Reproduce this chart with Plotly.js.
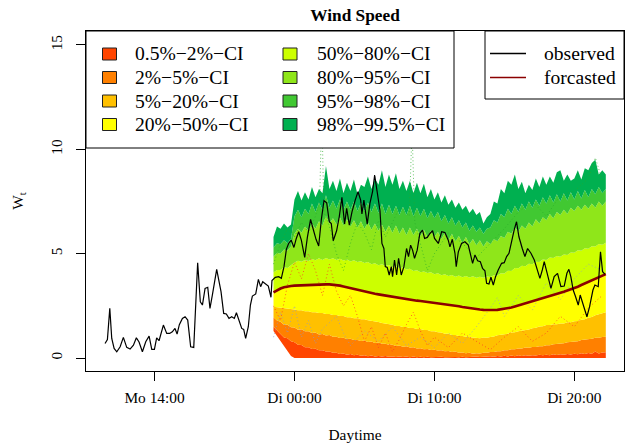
<!DOCTYPE html>
<html>
<head>
<meta charset="utf-8">
<script src="https://cdn.plot.ly/plotly-3.0.1.min.js"></script>
<style>html,body{margin:0;padding:0;background:#fff}#chart{width:627px;height:445px}</style>
</head>
<body>
<div id="chart"></div>
<script>
// ---------- DATA (hours since Monday 00:00) ----------
const tickVals = [14, 24, 34, 44];
const tickText = ["Mo 14:00", "Di 00:00", "Di 10:00", "Di 20:00"];

const bandLabels = ["0.5%\u22122%\u2212CI", "2%\u22125%\u2212CI", "5%\u221220%\u2212CI", "20%\u221250%\u2212CI",
                    "50%\u221280%\u2212CI", "80%\u221295%\u2212CI", "95%\u221298%\u2212CI", "98%\u221299.5%\u2212CI"];
const bandColors = ["#FF4500", "#FF8000", "#FFC000", "#FFFF00", "#CCFF00", "#8FE61A", "#41C832", "#00B050"];

const tObs = [10.46,10.63,10.80,10.94,11.11,11.30,11.54,11.77,12.01,12.25,12.49,12.70,12.89,13.13,13.37,13.61,13.80,13.99,14.15,14.32,14.63,14.87,15.08,15.27,15.46,15.61,15.77,15.99,16.18,16.37,16.58,16.80,17.08,17.27,17.42,17.61,17.80,17.96,18.13,18.44,18.75,18.94,19.13,19.32,19.51,19.70,19.85,20.04,20.23,20.37,20.51,20.70,20.85,20.99,21.23,21.42,21.58,21.73,21.94,22.13,22.32,
  22.39,22.63,22.87,23.06,23.25,23.42,23.58,23.77,23.96,24.13,24.30,24.49,24.73,24.92,25.15,25.34,25.54,25.73,25.92,26.11,26.30,26.49,26.63,26.77,27.01,27.20,27.39,27.58,27.73,27.92,28.11,28.34,28.54,28.73,28.82,28.96,29.20,29.39,29.58,29.73,29.92,30.11,30.25,30.39,30.49,30.63,30.77,30.92,31.01,31.15,31.30,31.44,31.63,31.82,32.01,32.15,32.30,32.44,32.58,32.77,32.96,33.15,33.30,33.49,33.68,33.87,34.01,
  34.28,34.52,34.75,34.99,35.11,35.28,35.47,35.56,35.71,35.94,36.18,36.42,36.61,36.73,36.90,37.09,37.28,37.44,37.61,37.73,37.90,38.04,38.21,38.37,38.56,38.80,38.99,39.16,39.33,39.47,39.71,39.87,40.04,40.28,40.47,40.66,40.90,41.14,41.30,41.54,41.71,41.85,42.06,42.33,42.56,42.80,43.04,43.28,43.47,43.61,43.75,43.92,44.09,44.28,44.42,44.71,44.90,45.09,45.33,45.47,45.71,45.87,46.02,46.18];
const wObs = [0.70,0.89,2.38,0.94,0.46,0.30,0.54,0.99,0.51,0.43,0.62,0.97,0.77,0.30,0.78,1.05,0.42,0.42,0.97,0.83,1.58,1.18,1.18,1.26,1.42,1.15,1.60,1.90,1.98,1.82,0.54,0.51,4.57,2.70,2.54,3.34,3.39,2.38,3.02,4.25,3.18,2.14,2.11,1.90,1.98,1.90,2.17,1.82,1.42,1.37,0.94,1.50,2.54,2.97,3.07,3.77,3.42,3.66,3.55,3.45,2.91,
  3.71,3.87,3.90,3.82,4.38,5.21,5.49,5.65,5.30,5.73,6.05,5.65,4.82,5.78,6.64,6.17,5.69,5.37,6.64,7.54,7.44,6.53,6.45,5.62,6.10,6.77,7.70,6.42,7.17,6.37,7.00,7.57,7.97,7.57,6.90,7.57,6.42,7.41,7.97,8.77,7.89,7.06,5.49,5.25,4.38,4.34,3.98,4.38,3.90,4.70,3.98,4.78,3.98,4.38,5.25,4.86,5.41,5.17,4.78,5.17,5.97,6.13,5.73,5.78,5.97,6.10,5.73,
  5.49,6.05,6.01,5.65,5.33,5.69,5.02,4.38,5.09,5.49,5.57,5.41,4.86,4.54,4.94,4.66,4.62,4.30,4.18,3.58,3.55,3.87,3.50,3.90,4.22,4.54,4.57,4.86,5.02,5.49,6.17,6.53,5.81,5.25,4.86,5.25,5.02,4.70,4.30,3.82,4.22,4.62,4.06,3.34,3.90,4.06,3.42,3.45,4.06,4.25,3.90,3.26,2.94,2.54,3.02,2.38,1.98,2.46,3.26,3.50,3.42,5.09,4.14,4.02];

const tFc = [22.5,22.75,23,23.25,23.5,23.75,24,24.25,24.5,24.75,25,25.25,25.5,25.75,26,26.25,26.5,26.75,27,27.25,27.5,27.75,28,28.25,28.5,28.75,29,29.25,29.5,29.75,30,30.25,30.5,30.75,31,31.25,31.5,31.75,32,32.25,32.5,32.75,33,33.25,33.5,33.75,34,34.25,34.5,34.75,35,35.25,35.5,35.75,36,36.25,36.5,36.75,37,37.25,37.5,37.75,38,38.25,38.5,38.75,39,39.25,39.5,39.75,40,40.25,40.5,40.75,41,41.25,41.5,41.75,42,42.25,42.5,42.75,43,43.25,43.5,43.75,44,44.25,44.5,44.75,45,45.25,45.5,45.75,46,46.25];

const q005 = [1.3,1.05, 0.8,0.55,0.3,0.1, 0,0,0,0, 0,0,0,0, 0,0,0,0, 0,0,0,0, 0,0,0,0, 0,0,0,0, 0,0,0,0, 0,0,0,0, 0,0,0,0, 0,0,0,0, 0,0,0,0, 0,0,0,0, 0,0,0,0, 0,0,0,0, 0,0,0,0, 0,0,0,0, 0,0,0,0, 0,0,0,0, 0,0,0,0, 0,0,0,0, 0,0,0,0, 0,0,0,0, 0,0,0,0, 0,0,0,0, 0,0];
const q02 = [1.5,1.3, 1.15,0.98,0.95,0.8, 0.76,0.64,0.62,0.52, 0.52,0.44,0.45,0.38, 0.38,0.31,0.32,0.25, 0.26,0.2,0.22,0.16, 0.19,0.14,0.16,0.11, 0.13,0.09,0.12,0.08, 0.1,0.07,0.1,0.06, 0.08,0.05,0.08,0.05, 0.07,0.04,0.07,0.04, 0.06,0.04,0.06,0.04, 0.05,0.04,0.06,0.04, 0.05,0.04,0.05,0.04, 0.06,0.04,0.06,0.05, 0.07,0.05,0.07,0.06, 0.09,0.06,0.1,0.07, 0.11,0.08,0.12,0.09, 0.13,0.1,0.14,0.11, 0.14,0.12,0.16,0.13, 0.16,0.14,0.18,0.15, 0.18,0.16,0.2,0.17, 0.21,0.18,0.23,0.2, 0.24,0.21,0.32,0.22, 0.27,0.28];
const q05 = [1.95,1.8, 1.74,1.6,1.6,1.48, 1.47,1.36,1.38,1.28, 1.29,1.2,1.22,1.13, 1.15,1.08,1.1,1.02, 1.02,0.96,0.97,0.91, 0.92,0.86,0.87,0.82, 0.84,0.77,0.79,0.72, 0.74,0.68,0.69,0.64, 0.64,0.58,0.6,0.54, 0.56,0.5,0.52,0.46, 0.47,0.42,0.44,0.39, 0.4,0.36,0.37,0.33, 0.34,0.29,0.31,0.26, 0.27,0.23,0.25,0.21, 0.23,0.22,0.25,0.25, 0.29,0.29,0.33,0.33, 0.37,0.37,0.42,0.42, 0.46,0.46,0.5,0.49, 0.53,0.53,0.57,0.57, 0.61,0.61,0.66,0.67, 0.71,0.71,0.76,0.77, 0.81,0.81,0.86,0.87, 0.91,0.92,0.97,0.97, 1.01,1.02];
const q20 = [2.46,2.44, 2.43,2.39,2.38,2.34, 2.33,2.29,2.29,2.24, 2.24,2.2,2.2,2.16, 2.16,2.11,2.11,2.06, 2.06,2.01,2.01,1.96, 1.96,1.91,1.91,1.86, 1.86,1.81,1.79,1.74, 1.73,1.68,1.66,1.61, 1.59,1.54,1.54,1.49, 1.49,1.44,1.44,1.39, 1.39,1.34,1.34,1.29, 1.29,1.24,1.23,1.17, 1.16,1.11,1.11,1.06, 1.06,1.02,1.01,0.97, 0.98,0.95,0.98,0.97, 1.01,1.03,1.09,1.11, 1.16,1.17,1.23,1.24, 1.29,1.31,1.36,1.37, 1.43,1.45,1.51,1.52, 1.58,1.58,1.62,1.62, 1.66,1.66,1.71,1.71, 1.76,1.78,1.84,1.86, 1.93,1.97,2.05,2.09, 2.16,2.2];
const q50 = [3.15,3.25, 3.33,3.39,3.43,3.45, 3.47,3.48,3.49,3.5, 3.5,3.51,3.51,3.52, 3.52,3.53,3.53,3.52, 3.5,3.47,3.43,3.39, 3.35,3.3,3.25,3.21, 3.17,3.14,3.11,3.08, 3.05,3.02,2.99,2.96, 2.93,2.9,2.87,2.85, 2.83,2.8,2.78,2.75, 2.73,2.71,2.68,2.66, 2.64,2.62,2.6,2.58, 2.56,2.53,2.5,2.48, 2.45,2.42,2.4,2.37, 2.35,2.33,2.31,2.3, 2.3,2.3,2.31,2.33, 2.35,2.38,2.42,2.47, 2.52,2.56,2.61,2.65, 2.7,2.75,2.8,2.85, 2.9,2.96,3.02,3.07, 3.13,3.18,3.24,3.29, 3.35,3.42,3.5,3.57, 3.65,3.72,3.8,3.87, 3.95,4.02];
const q80 = [4.1,4.22, 4.22,4.35,4.32,4.45, 4.58,4.66,4.62,4.7, 4.65,4.75,4.69,4.78, 4.7,4.8,4.72,4.78, 4.7,4.76,4.67,4.72, 4.63,4.69,4.6,4.64, 4.55,4.6,4.5,4.54, 4.45,4.5,4.41,4.46, 4.35,4.4,4.3,4.34, 4.24,4.28,4.17,4.21, 4.11,4.15,4.07,4.11, 4.01,4.06,3.97,4.02, 3.93,3.98,3.9,3.95, 3.87,3.93,3.86,3.92, 3.85,3.9,3.85,3.91, 3.88,3.97,3.95,4.06, 4.05,4.18,4.17,4.31, 4.3,4.42,4.4,4.52, 4.5,4.62,4.6,4.72, 4.7,4.82,4.79,4.89, 4.85,4.96,4.94,5.06, 5.04,5.16,5.14,5.26, 5.24,5.36,5.34,5.46, 5.43,5.52];
const q95 = [4.85,5.05, 5.0,5.2,5.15,5.35, 5.95,6.2,6.0,6.3, 6.1,6.45,6.2,6.55, 6.35,6.8,6.45,6.7, 6.4,6.75,6.35,6.65, 6.3,6.6,6.25,6.55, 6.2,6.5,6.15,6.45, 6.1,6.4,6.05,6.35, 6.0,6.35,5.95,6.25, 5.9,6.25,5.9,6.2, 5.85,6.15,5.8,6.1, 5.8,6.05,5.7,6.0, 5.65,5.95,5.6,5.85, 5.5,5.8,5.45,5.7, 5.4,5.65,5.35,5.6, 5.45,5.7,5.6,5.85, 5.75,6.05,5.95,6.25, 6.05,6.35,6.2,6.5, 6.3,6.65,6.45,6.75, 6.6,6.9,6.7,7.0, 6.85,7.1,6.9,7.2, 7.05,7.3,7.1,7.35, 7.15,7.4,7.2,7.5, 7.3,7.5];
const q98 = [5.3,5.5, 5.45,5.65,5.5,5.7, 6.8,7.1,6.75,7.15, 6.9,7.4,7.0,7.45, 7.1,7.8,7.2,7.55, 7.15,7.6,7.1,7.5, 7.1,7.5,7.05,7.45, 7.05,7.45,7.0,7.4, 6.95,7.4,6.9,7.35, 6.9,7.3,6.85,7.25, 6.85,7.3,6.8,7.2, 6.8,7.15,6.7,7.05, 6.7,7.0,6.55,6.85, 6.45,6.75,6.35,6.6, 6.25,6.5,6.1,6.35, 6.05,6.25,5.95,6.2, 6.25,6.6,6.5,6.9, 6.75,7.15,6.9,7.3, 7.0,7.4,7.1,7.5, 7.2,7.6,7.3,7.7, 7.4,7.8,7.45,7.85, 7.5,7.9,7.55,7.95, 7.6,8.0,7.65,8.05, 7.7,8.1,7.85,8.2, 7.9,8.1];
const q995 = [5.8,6.3, 6.2,6.45,6.25,6.4, 7.6,8.0,7.55,7.95, 7.6,8.2,7.7,8.1, 7.9,9.2,8.1,8.5, 8.0,8.6,7.9,8.4, 8.0,8.55,7.85,8.3, 8.2,8.7,8.1,8.6, 8.3,9.0,8.2,8.8, 8.3,8.85,8.1,8.5, 8.0,8.5,7.9,8.4, 7.9,8.35,7.7,8.1, 7.6,7.95,7.45,7.8, 7.35,7.6,7.2,7.45, 7.1,7.3,6.95,7.15, 6.85,7.0,6.45,6.75, 6.9,7.5,7.4,8.1, 7.9,8.5,8.3,8.8, 8.1,8.45,7.9,8.3, 8.05,8.6,8.2,8.7, 8.3,8.7,8.4,8.9, 9.0,8.5,8.8,8.5, 8.6,9.0,8.55,9.1, 9.0,9.35,9.5,8.8, 9.0,8.8];

// a few scenario paths drawn dotted
const tScenG = [22.5,23,23.5,24,24.5,25,25.5,25.8,25.95,26.1,26.5,27,27.5,28,28.5,29,29.5,30,30.5,31,31.5,32.2,32.4,32.6,33,33.5,34,35,36,37,38,39,40,41,42,43,44,45,45.5,46];
const wScenG = [4.5,5.5,6.2,5.8,6.5,6.0,6.8,7.5,12,7.0,6.3,5.0,4.2,5.5,6.5,6.0,5.2,6.6,5.8,6.5,7.2,6.8,11,6.5,5.5,4.2,5.0,6.0,5.5,4.8,5.5,6.2,7.0,7.5,6.8,7.8,8.0,8.6,9.6,8.5];
const tScenR = [22.5,23,23.5,24,24.5,25,25.5,26,26.5,27,27.5,28,28.5,29,29.5,30,30.5,31,31.5,32,32.5,33,33.5,34,35,36,37,38,39,40,41,42,43,44,45,46];
const wScenR = [2.5,1.8,3.5,4.6,3.8,5.0,4.2,3.0,4.5,3.2,2.5,3.0,2.0,0.8,1.5,0.5,1.2,0.3,0.9,1.6,2.2,1.3,0.6,1.0,0.5,1.2,0.8,0.4,1.0,1.5,0.8,1.2,2.0,1.5,2.4,3.0];
const tScenB = [22.5,23,23.5,24,24.5,25,25.5,26,27,27.5,28,29,30,31,32,33,34,35,36,37,38,38.5,39,40,41,42,43,44,45,46];
const wScenB = [1.0,2.2,1.2,2.5,1.0,1.8,0.7,1.4,2.0,1.2,0.6,1.3,0.8,1.5,0.6,1.0,0.5,1.2,0.7,1.5,2.4,2.9,2.0,3.0,2.3,3.6,2.8,3.8,4.5,4.2];

// ---------- TRACES ----------
const bounds = [q005, q02, q05, q20, q50, q80, q95, q98, q995];
const traces = [];
traces.push({x: tFc, y: bounds[0], mode: 'lines', line: {width: 0}, showlegend: false, hoverinfo: 'skip'});
for (let i = 0; i < bandColors.length; i++) {
  traces.push({x: tFc, y: bounds[i + 1], mode: 'lines', line: {width: 0}, fill: 'tonexty',
               fillcolor: bandColors[i], name: bandLabels[i], showlegend: false, hoverinfo: 'skip'});
}
const dotDash = '1px,2.5px';
traces.push({x: tScenR, y: wScenR, mode: 'lines', line: {color: 'rgba(255,40,40,0.7)', width: 1, dash: dotDash}, showlegend: false});
traces.push({x: tScenB, y: wScenB, mode: 'lines', line: {color: 'rgba(140,150,210,0.7)', width: 1, dash: dotDash}, showlegend: false});
traces.push({x: tScenG, y: wScenG, mode: 'lines', line: {color: 'rgba(40,170,40,0.7)', width: 1, dash: dotDash}, showlegend: false});
traces.push({x: tFc, y: q50, mode: 'lines', line: {color: '#8B0000', width: 2.6}, name: 'forcasted', showlegend: false});
traces.push({x: tObs, y: wObs, mode: 'lines', line: {color: '#000000', width: 1.2}, name: 'observed', showlegend: false});

// ---------- LAYOUT ----------
const W = 627, H = 445, L = 86, R = 3, T = 31, B = 74;
const px = X => (X - L) / (W - L - R);
const py = Y => (H - B - Y) / (H - T - B);
const serif = 'Liberation Serif, Times New Roman, serif';
const legFont = {family: serif, size: 19.6, color: '#000'};

const shapes = [];
const annotations = [];
// legend 1 (quantile bands)
shapes.push({type: 'rect', xref: 'paper', yref: 'paper', x0: px(86), x1: px(454), y0: py(148), y1: py(31),
             fillcolor: '#fff', line: {color: '#000', width: 1}, layer: 'above'});
const colSq = [102.5, 283], colTx = [133, 315], rowY = [54, 77.5, 101, 124.5];
bandLabels.forEach((lab, i) => {
  const c = Math.floor(i / 4), r = i % 4;
  shapes.push({type: 'rect', xref: 'paper', yref: 'paper', x0: px(colSq[c]), x1: px(colSq[c] + 14),
               y0: py(rowY[r] + 6), y1: py(rowY[r] - 6), fillcolor: bandColors[i],
               line: {color: '#222', width: 1}, layer: 'above'});
  annotations.push({xref: 'paper', yref: 'paper', x: px(colTx[c]), y: py(rowY[r]), xanchor: 'left', yanchor: 'middle',
                    text: lab, showarrow: false, font: legFont});
});
// legend 2 (lines)
shapes.push({type: 'rect', xref: 'paper', yref: 'paper', x0: px(485), x1: px(624), y0: py(99), y1: py(31),
             fillcolor: '#fff', line: {color: '#000', width: 1}, layer: 'above'});
const lineLeg = [{lab: 'observed', col: '#000000', y: 53.5}, {lab: 'forcasted', col: '#8B0000', y: 77.5}];
lineLeg.forEach(e => {
  shapes.push({type: 'line', xref: 'paper', yref: 'paper', x0: px(490), x1: px(526), y0: py(e.y), y1: py(e.y),
               line: {color: e.col, width: 1.3}, layer: 'above'});
  annotations.push({xref: 'paper', yref: 'paper', x: px(542), y: py(e.y), xanchor: 'left', yanchor: 'middle',
                    text: e.lab, showarrow: false, font: legFont});
});

const axisFont = {family: serif, size: 15.4, color: '#000'};
const layout = {
  width: W, height: H,
  margin: {l: L, r: R, t: T, b: B, pad: 0},
  paper_bgcolor: '#fff', plot_bgcolor: '#fff',
  font: {family: serif, color: '#000'},
  showlegend: false,
  title: {text: '<b>Wind Speed</b>', font: {family: serif, size: 17.3, color: '#000'},
          x: 0.5, xref: 'paper', y: 1 - 15 / H, yref: 'container', yanchor: 'middle'},
  xaxis: {range: [9.1, 47.55], tickvals: tickVals, ticktext: tickText, ticks: 'outside', ticklen: 9,
          tickwidth: 1, tickcolor: '#000', tickfont: axisFont, ticklabelstandoff: 4,
          showgrid: false, zeroline: false, showline: true, mirror: true, linecolor: '#000', linewidth: 1,
          title: {text: 'Daytime', font: axisFont, standoff: 23}},
  yaxis: {range: [-0.62, 15.67], tickvals: [0, 5, 10, 15], ticks: 'outside', ticklen: 9, tickwidth: 1,
          tickcolor: '#000', tickfont: axisFont, tickangle: -90, ticklabelstandoff: 8,
          showgrid: false, zeroline: false, showline: true, mirror: true, linecolor: '#000', linewidth: 1,
          title: {text: 'W<sub>t</sub>', font: axisFont, standoff: 20}},
  shapes: shapes,
  annotations: annotations
};

Plotly.newPlot('chart', traces, layout, {staticPlot: true, displayModeBar: false});
</script>
</body>
</html>
